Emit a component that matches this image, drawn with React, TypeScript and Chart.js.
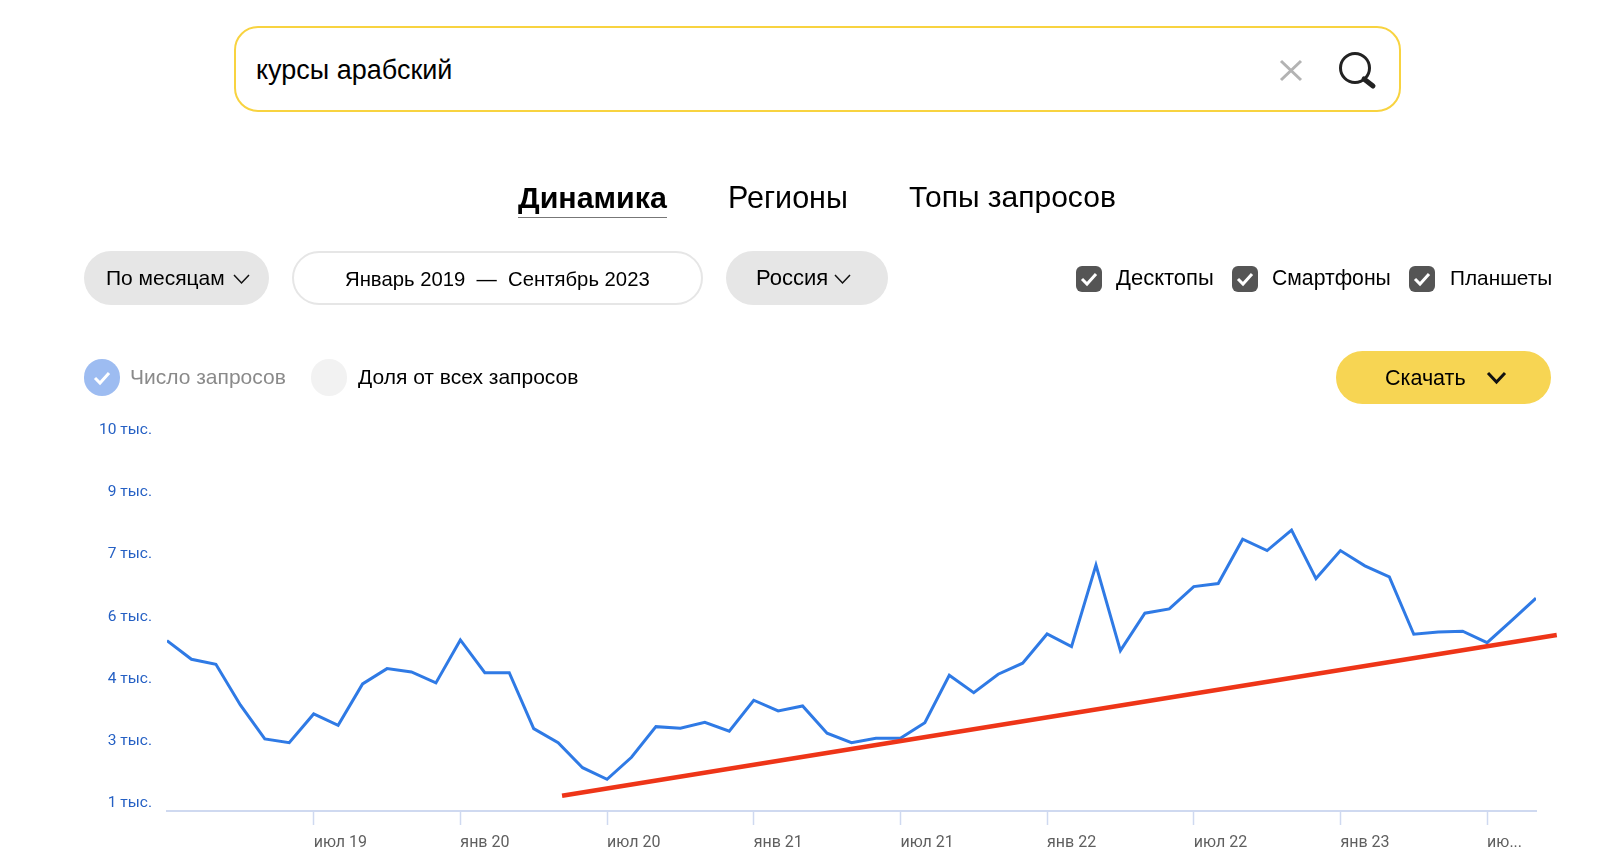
import React, { useEffect, useRef } from "react";
import { Chart, registerables } from "chart.js";

Chart.register(...registerables);

const queryValues = [
  5390, 4941, 4821, 3839, 3019, 2930, 3622, 3350, 4346, 4715, 4635, 4370,
  5407, 4618, 4618, 3268, 2930, 2327, 2047, 2578, 3316, 3277, 3422, 3205,
  3953, 3695, 3815, 3157, 2930, 3036, 3036, 3412, 4555, 4136, 4580, 4845,
  5551, 5245, 7208, 5149, 6051, 6154, 6692, 6765, 7835, 7560, 8052, 6885,
  7560, 7191, 6926, 5544, 5600, 5617, 5342, 5872, 6412,
];
const trendX = [16.16, 56.85];
const trendY = [1652, 5527];
const xTickIndexes = [6, 12, 18, 24, 30, 36, 42, 48, 54];
const xTickLabels = ["июл 19", "янв 20", "июл 20", "янв 21", "июл 21", "янв 22", "июл 22", "янв 23", "ию..."];
const yTickValues = [1500, 3000, 4500, 6000, 7500, 9000, 10500];
const yTickLabels = ["1 тыс.", "3 тыс.", "4 тыс.", "6 тыс.", "7 тыс.", "9 тыс.", "10 тыс."];

const UI = '"Liberation Sans", Arial, sans-serif';

function Txt(p: { x: number; cy: number; size: number; w: number; color?: string; weight?: number; font?: string; children: string }) {
  return (
    <span
      style={{
        position: "absolute", left: p.x, top: p.cy - 20, height: 40, lineHeight: "40px", width: p.w,
        fontSize: p.size, color: p.color || "#000", fontWeight: p.weight || 400, fontFamily: p.font || UI,
        whiteSpace: "pre",
      }}
    >
      {p.children}
    </span>
  );
}

function Box(p: { x: number; y: number; w: number; h: number; bg?: string; border?: string; r: number }) {
  return (
    <div
      style={{
        position: "absolute", left: p.x, top: p.y, width: p.w, height: p.h, background: p.bg || "transparent",
        border: p.border || "none", borderRadius: p.r, boxSizing: "border-box",
      }}
    />
  );
}

function Chevron(p: { x: number; y: number; w: number; h: number; sw: number }) {
  return (
    <svg style={{ position: "absolute", left: p.x, top: p.y, overflow: "visible" }} width={p.w} height={p.h}>
      <polyline points={`0,0 ${p.w / 2},${p.h} ${p.w},0`} fill="none" stroke="#111" strokeWidth={p.sw} />
    </svg>
  );
}

function Check(p: { x: number; y: number; color?: string }) {
  return (
    <svg style={{ position: "absolute", left: p.x, top: p.y, overflow: "visible" }} width={16} height={14}>
      <polyline points="1,7 6,12 15,2" fill="none" stroke={p.color || "#fff"} strokeWidth={3} />
    </svg>
  );
}

export default function App() {
  const ref = useRef<HTMLCanvasElement>(null);
  useEffect(() => {
    const chart = new Chart(ref.current!, {
      type: "line",
      data: {
        datasets: [
          {
            label: "Тренд",
            data: trendX.map((x, i) => ({ x, y: trendY[i] })),
            borderColor: "#ee3518",
            borderWidth: 4.5,
            pointRadius: 0,
            clip: false,
            order: 0,
          },
          {
            label: "Число запросов",
            data: queryValues.map((y, x) => ({ x, y })),
            borderColor: "#2f7ae5",
            borderWidth: 3,
            pointRadius: 0,
            borderJoinStyle: "miter",
            tension: 0,
            order: 1,
          },
        ],
      },
      options: {
        animation: false,
        responsive: false,
        layout: { padding: { top: 428.6, right: 64, left: 0, bottom: 0 } },
        plugins: { legend: { display: false }, tooltip: { enabled: false } },
        scales: {
          x: {
            type: "linear",
            min: 0,
            max: 56,
            afterFit: (s: any) => { s.height = 48; },
            afterBuildTicks: (s: any) => { s.ticks = xTickIndexes.map((value) => ({ value })); },
            grid: { drawOnChartArea: false, drawTicks: true, tickLength: 14, tickColor: "#cfd9f0", tickWidth: 1.5 },
            border: { color: "#cfd9f0", width: 2 },
            ticks: {
              autoSkip: false,
              maxRotation: 0,
              align: "start",
              labelOffset: 0,
              padding: 8,
              color: "#5f5f5f",
              font: { family: "Roboto", size: 16 },
              callback: (v: any) => xTickLabels[xTickIndexes.indexOf(v)],
            },
          },
          y: {
            type: "linear",
            min: 1283,
            max: 10500,
            afterFit: (s: any) => { s.width = 167; },
            afterBuildTicks: (s: any) => { s.ticks = yTickValues.map((value) => ({ value })); },
            grid: { display: false },
            border: { display: false },
            ticks: {
              autoSkip: false,
              padding: 7,
              labelOffset: 1.5,
              color: "#2560c4",
              font: { family: "Roboto", size: 15.5 },
              callback: (v: any) => yTickLabels[yTickValues.indexOf(v)],
            },
          },
        },
      },
    } as any);
    return () => chart.destroy();
  }, []);

  return (
    <div style={{ position: "fixed", left: 0, top: 0, width: 1600, height: 859, background: "#fff", overflow: "hidden" }}>
      <canvas ref={ref} width={1600} height={859} style={{ position: "absolute", left: 0, top: 0, width: 1600, height: 859 }} />

      <Box x={234} y={26} w={1167} h={86} bg="#fff" border="2.5px solid #f8d340" r={24} />
      <Txt x={256} cy={70} size={27} w={300}>курсы арабский</Txt>
      <svg style={{ position: "absolute", left: 0, top: 0 }} width={1600} height={120}>
        <path d="M1281 61 L1301 80 M1301 61 L1281 80" stroke="#b3b3b3" strokeWidth={3} fill="none" />
        <circle cx={1355} cy={68} r={14.5} stroke="#222" strokeWidth={3} fill="none" />
        <path d="M1364 79 L1373 86" stroke="#222" strokeWidth={5} fill="none" strokeLinecap="round" />
      </svg>

      <Txt x={518} cy={197} size={30.4} w={160} weight={700}>Динамика</Txt>
      <div style={{ position: "absolute", left: 518, top: 217, width: 149, height: 1, background: "#777" }} />
      <Txt x={728} cy={197} size={30.5} w={130}>Регионы</Txt>
      <Txt x={909} cy={197} size={30} w={220}>Топы запросов</Txt>

      <Box x={84} y={251} w={185} h={54} bg="#e6e6e6" r={27} />
      <Txt x={106} cy={278} size={21} w={130}>По месяцам</Txt>
      <Chevron x={234} y={275} w={15} h={8} sw={1.5} />
      <Box x={292} y={251} w={411} h={54} border="2px solid #e6e6e6" r={27} />
      <Txt x={345} cy={279} size={20.3} w={310}>{"Январь 2019  —  Сентябрь 2023"}</Txt>
      <Box x={726} y={251} w={162} h={54} bg="#e6e6e6" r={27} />
      <Txt x={756} cy={278} size={22} w={80}>Россия</Txt>
      <Chevron x={835} y={275} w={15} h={8} sw={1.5} />

      <Box x={1076} y={266} w={26} h={26} bg="#555" r={6} />
      <Check x={1081} y={272} />
      <Txt x={1116} cy={278} size={22} w={110}>Десктопы</Txt>
      <Box x={1232} y={266} w={26} h={26} bg="#555" r={6} />
      <Check x={1237} y={272} />
      <Txt x={1272} cy={278} size={21.2} w={125}>Смартфоны</Txt>
      <Box x={1409} y={266} w={26} h={26} bg="#555" r={6} />
      <Check x={1414} y={272} />
      <Txt x={1450} cy={278} size={20.8} w={110}>Планшеты</Txt>

      <Box x={84} y={359} w={36} h={37} bg="#9dbcf1" r={19} />
      <Check x={94} y={371} />
      <Txt x={130} cy={377} size={21} w={165} color="#8a8a8a">Число запросов</Txt>
      <Box x={311} y={359} w={36} h={37} bg="#f2f2f2" r={19} />
      <Txt x={358} cy={377} size={21} w={225}>Доля от всех запросов</Txt>

      <Box x={1336} y={351} w={215} h={53} bg="#f7d553" r={27} />
      <Txt x={1385} cy={378} size={21.5} w={90}>Скачать</Txt>
      <Chevron x={1488} y={373} w={17} h={9} sw={3} />
    </div>
  );
}
